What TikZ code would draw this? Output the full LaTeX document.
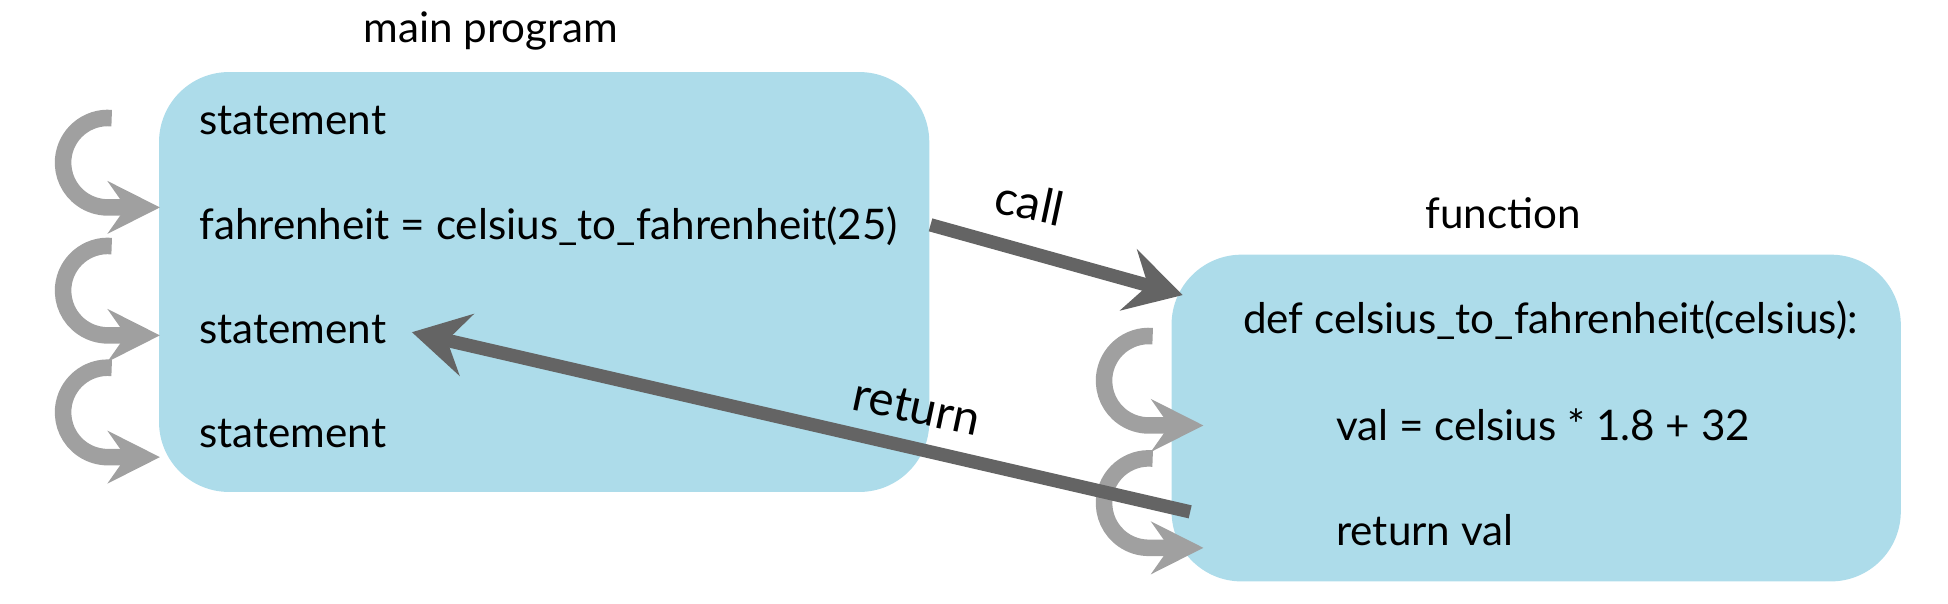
\documentclass[tikz,border=0pt]{standalone}
\usepackage{fontspec}
\setmainfont{Lato}
\usepackage{tikz}
\usetikzlibrary{arrows.meta}
\definecolor{boxblue}{RGB}{173,220,234}
\definecolor{loopgray}{RGB}{160,160,160}
\definecolor{flowgray}{RGB}{100,100,100}

\begin{document}
\begin{tikzpicture}[x=0.1242cm, y=0.1242cm,
  box/.style={fill=boxblue, rounded corners=0.7cm},
  txt/.style={inner sep=0pt, font=\fontsize{12}{14}\selectfont},
  lbl/.style={inner sep=0pt, font=\fontsize{13.5}{15}\selectfont, rotate=-12},
  loop/.style={draw=loopgray, line width=4.7pt, -{Stealth[length=5.2mm, width=5.2mm, inset=1.8mm]}},
  flow/.style={draw=flowgray, line width=3.8pt, -{Stealth[length=5.6mm, width=6.3mm, inset=2mm]}}]
\useasboundingbox (0, 0) rectangle (156.8, 48.6);

% the two blocks
\fill [box] (12.8, 9.0) rectangle (74.8, 42.8);
\fill [box] (94.3, 1.8) rectangle (153.0, 28.1);

\node [txt] (maintitle) at (39.5, 46.1) {main program};
\node [txt, anchor=west] (stmta) at (16.0, 38.9) {statement};
\node [txt, anchor=west] (fahr) at (16.0, 30.4) {fahrenheit = celsius\_to\_fahrenheit(25)};
\node [txt, anchor=west] (stmtb) at (16.0, 22.1) {statement};
\node [txt, anchor=west] (stmtc) at (16.0, 13.7) {statement};

\node [txt] (functitle) at (121.0, 31.4) {function};
\node [txt, anchor=west] (def) at (100.0, 22.8) {def celsius\_to\_fahrenheit(celsius):};
\node [txt, anchor=west] (val) at (107.5, 14.4) {val = celsius * 1.8 + 32};
\node [txt, anchor=west] (ret) at (107.5, 5.9) {return val};

% step loops
\foreach \y in {35.5, 25.2, 15.4}
  \draw [loop] (8.99, \y+3.59) arc [start angle=85, end angle=270, radius=3.6] -- ++(4.2, 0);
\foreach \y in {17.95, 8.1}
  \draw [loop] (92.78, \y+3.59) arc [start angle=85, end angle=270, radius=3.6] -- ++(4.4, 0);

% call and return
\coordinate (callfrom) at (74.9, 30.5);
\coordinate (callto) at (95.2, 24.85);
\coordinate (retfrom) at (95.8, 7.4);
\draw [flow] (callfrom) -- (callto);
\draw [flow] (retfrom) -- ([xshift=0.25cm, yshift=-0.03cm]stmtb.east);
\node [lbl] (calllabel) at (82.9, 32.3) {call};
\node [lbl] (retlabel) at (73.8, 15.8) {return};
\end{tikzpicture}
\end{document}
